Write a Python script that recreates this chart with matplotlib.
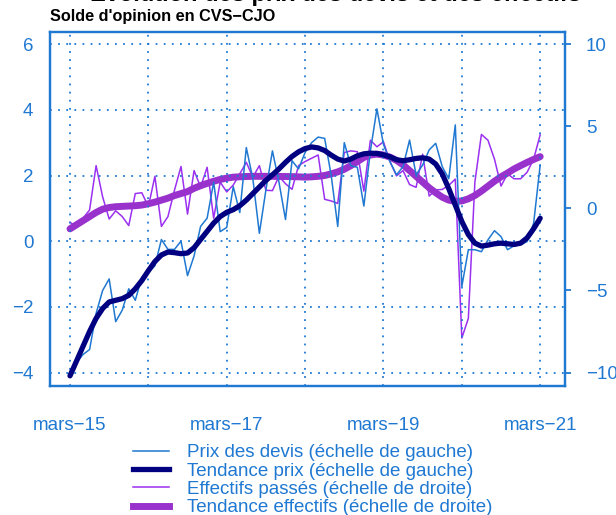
import numpy as np
import matplotlib
matplotlib.use("Agg")
import matplotlib.pyplot as plt
from matplotlib.lines import Line2D

plt.rcParams['font.family'] = ['Liberation Sans', 'DejaVu Sans']

# ---------------- data ----------------
months = list(range(73))  # mars-15 ... mars-21, monthly
year_ticks = [0, 12, 24, 36, 48, 60, 72]
label_ticks = [0, 24, 48, 72]
tick_labels = ["mars\u221215", "mars\u221217", "mars\u221219", "mars\u221221"]

prix_devis = [-4.0, -3.7, -3.45, -3.3, -2.2, -1.5, -1.15, -2.45, -2.1, -1.45,
              -1.8, -1.1, -0.95, -0.75, 0.05, -0.25, -0.25, 0.0, -1.05, -0.45,
              0.45, 0.7, 1.8, 0.29, 0.42, 1.66, 0.87, 2.85, 1.9, 0.24,
              1.56, 2.75, 1.8, 0.66, 2.45, 2.2, 2.7, 3.0, 3.17, 3.13,
              2.0, 0.45, 3.0, 2.3, 2.25, 1.07, 2.75, 4.03, 2.95, 2.42,
              2.02, 2.27, 3.08, 2.02, 2.32, 2.78, 2.98, 2.27, 1.9, 3.54,
              -1.38, -0.26, -0.26, -0.32, 0.04, 0.32, 0.14, -0.26, -0.14, -0.11,
              -0.01, 0.55, 2.32]

tendance_prix = [-4.1, -3.65, -3.2, -2.75, -2.35, -2.05, -1.85, -1.8, -1.75, -1.65,
                 -1.45, -1.2, -0.9, -0.62, -0.42, -0.33, -0.35, -0.38, -0.36, -0.2,
                 0.05, 0.3, 0.55, 0.75, 0.88, 0.96, 1.08, 1.25, 1.45, 1.65,
                 1.85, 2.02, 2.2, 2.4, 2.58, 2.72, 2.82, 2.87, 2.84, 2.76,
                 2.62, 2.5, 2.44, 2.5, 2.6, 2.66, 2.68, 2.67, 2.63, 2.57,
                 2.48, 2.45, 2.48, 2.52, 2.54, 2.5, 2.35, 2.05, 1.6, 1.1,
                 0.6, 0.2, -0.06, -0.15, -0.12, -0.08, -0.06, -0.08, -0.1, -0.06,
                 0.1, 0.38, 0.7]

effectifs = [-0.85, -1.1, -0.6, -0.1, 2.6, 0.7, -0.65, -0.15, -0.5, -1.05,
             0.9, 0.95, 0.1, 1.95, -1.1, -0.5, 1.1, 2.55, -0.35, 2.3,
             1.3, 2.5, -0.6, 1.6, 1.0, 1.42, 2.1, 2.8, 1.9, 2.6,
             1.1, 1.08, 1.95, 1.5, 1.16, 2.6, 2.85, 3.05, 3.25, 0.55,
             0.45, 0.3, 3.4, 3.5, 3.45, 1.05, 4.15, 3.75, 4.05, 2.85,
             1.98, 2.3, 1.45, 1.28, 3.3, 0.75, 1.12, 1.15, 1.4, 1.78,
             -7.9, -6.7, 1.6, 4.5, 4.15, 3.0, 1.36, 2.1, 1.8, 1.8,
             2.2, 3.0, 4.48]

tendance_effectifs = [-1.25, -1.0, -0.75, -0.5, -0.25, -0.05, 0.05, 0.1, 0.12, 0.14,
                      0.16, 0.2, 0.28, 0.38, 0.5, 0.62, 0.78, 0.9, 1.02, 1.22,
                      1.38, 1.52, 1.65, 1.76, 1.84, 1.9, 1.92, 1.94, 1.95, 1.95,
                      1.95, 1.95, 1.94, 1.94, 1.93, 1.92, 1.9, 1.92, 1.95, 2.0,
                      2.1, 2.22, 2.38, 2.6, 2.85, 3.1, 3.25, 3.3, 3.25, 3.12,
                      2.92, 2.65, 2.3, 1.95, 1.6, 1.25, 0.95, 0.68, 0.5, 0.43,
                      0.45, 0.58, 0.78, 1.05, 1.35, 1.65, 1.92, 2.15, 2.4, 2.6,
                      2.8, 2.98, 3.15]

left_ticks = [-4, -2, 0, 2, 4, 6]
right_ticks = [-10, -5, 0, 5, 10]

legend_labels = ["Prix des devis (\u00e9chelle de gauche)",
                 "Tendance prix (\u00e9chelle de gauche)",
                 "Effectifs pass\u00e9s (\u00e9chelle de droite)",
                 "Tendance effectifs (\u00e9chelle de droite)"]

# ---------------- style ----------------
BLUE = "#1f78d1"
NAVY = "#000080"
PURPLE = "#9b30f0"
PURPLE_T = "#9932cc"

W, H = 616, 515
fig = plt.figure(figsize=(W / 100, H / 100), dpi=100)
ax = fig.add_axes([50 / W, 1 - 386 / H, (565 - 50) / W, (386 - 32) / H])
ax2 = ax.twinx()

ax.set_xlim(-3.06, 75.8)
ylo, yhi = -4.41, 6.37
ax.set_ylim(ylo, yhi)
ax2.set_ylim(2 * (ylo - 1), 2 * (yhi - 1))

l1, = ax.plot(months, prix_devis, color=BLUE, lw=1.1, zorder=3)
l2, = ax.plot(months, tendance_prix, color=NAVY, lw=3.8, zorder=4,
              solid_capstyle='round')
l3, = ax2.plot(months, effectifs, color=PURPLE, lw=1.1, zorder=3)
l4, = ax2.plot(months, tendance_effectifs, color=PURPLE_T, lw=5.0, zorder=4,
               solid_capstyle='round')

# grid
for yv in left_ticks:
    ax.axhline(yv, color=BLUE, lw=1.3, ls=(0, (1, 3.5)), zorder=1)
for xv in year_ticks:
    ax.axvline(xv, color=BLUE, lw=1.3, ls=(0, (1, 3.5)), zorder=1)

# axes styling
for a in (ax, ax2):
    for sp in a.spines.values():
        sp.set_color(BLUE)
        sp.set_linewidth(1.6)

ax.set_xticks(label_ticks)
ax.set_xticklabels(tick_labels)
ax.tick_params(axis='x', length=0, pad=22, labelsize=13.5, labelcolor=BLUE)
ax.set_yticks(left_ticks)
ax.set_yticklabels([str(v).replace('-', '\u2212') for v in left_ticks])
ax.tick_params(axis='y', length=0, pad=12, labelsize=13.5, labelcolor=BLUE)
ax2.set_yticks(right_ticks)
ax2.set_yticklabels([str(v).replace('-', '\u2212') for v in right_ticks])
ax2.tick_params(axis='y', length=4, width=1.3, color=BLUE, pad=11,
                labelsize=13.5, labelcolor=BLUE)

ax.set_zorder(ax2.get_zorder() + 1)
ax.patch.set_visible(False)

# titles
fig.text(90 / W, 1 - 1.5 / H, "\u00c9volution des prix des devis et des effectifs",
         fontsize=17, fontweight='bold', ha='left', va='baseline', color='black')
fig.text(50 / W, 1 - 21 / H, "Solde d'opinion en CVS\u2212CJO",
         fontsize=11.7, fontweight='bold', ha='left', va='baseline', color='black')

# legend
handles = [Line2D([], [], color=BLUE, lw=1.1),
           Line2D([], [], color=NAVY, lw=3.8),
           Line2D([], [], color=PURPLE, lw=1.1),
           Line2D([], [], color=PURPLE_T, lw=5.0)]
fig.legend(handles, legend_labels, loc='upper left',
           bbox_to_anchor=(133 / W, 1 - 444 / H), frameon=False,
           fontsize=13.5, labelcolor=BLUE, borderpad=0, borderaxespad=0,
           handlelength=1.93, handletextpad=0.96, labelspacing=0.07)

fig.savefig("out.png", dpi=100)
